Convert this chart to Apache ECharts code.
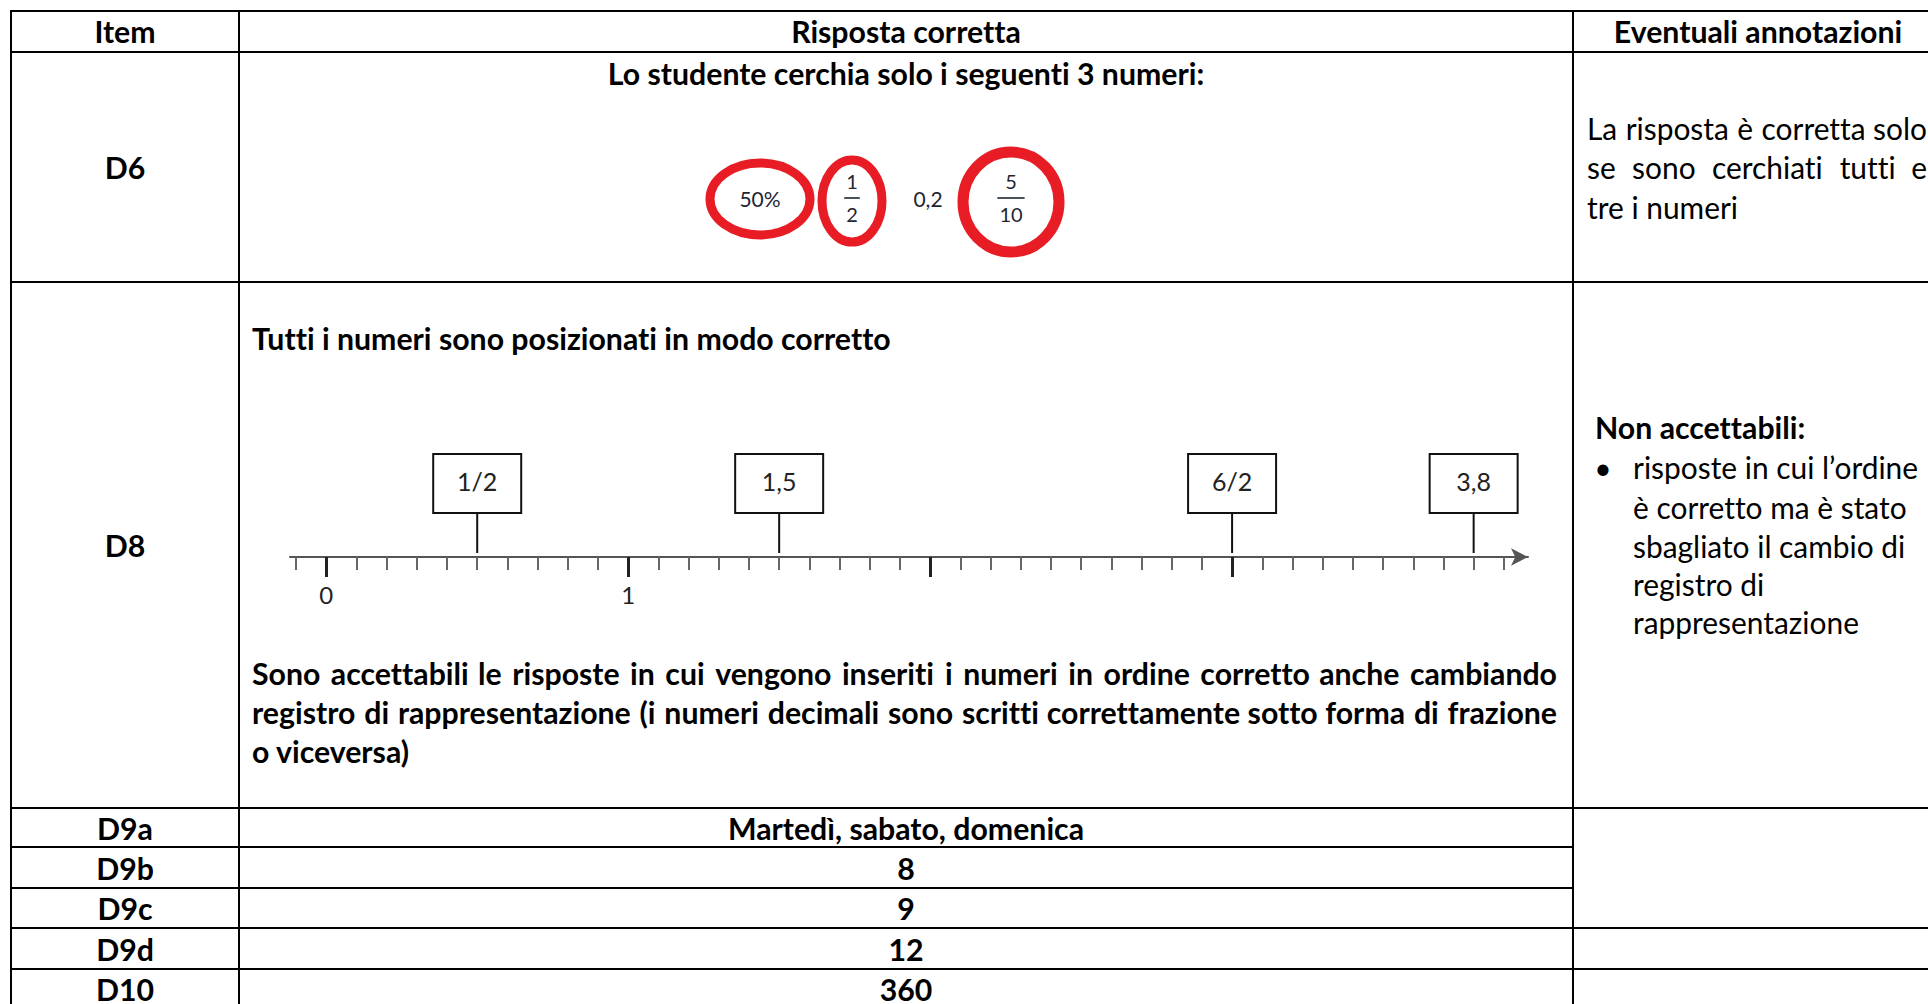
<!DOCTYPE html>
<html><head><meta charset="utf-8">
<script src="https://cdn.jsdelivr.net/npm/echarts@6/dist/echarts.min.js"></script>
<style>html,body{margin:0;padding:0;background:#fff}#c{width:1928px;height:1004px}
#c text{font-variant-ligatures:none;font-feature-settings:"liga" 0,"clig" 0}</style>
</head><body><div id="c"></div>
<script>
// ---------- content ----------
const headers = ['Item', 'Risposta corretta', 'Eventuali annotazioni'];
const items = ['D6', 'D8', 'D9a', 'D9b', 'D9c', 'D9d', 'D10'];
const d6Intro = 'Lo studente cerchia solo i seguenti 3 numeri:';
const d6Numbers = ['50%', '1/2', '0,2', '5/10'];
const d6Circled = [true, true, false, true];
const d8Intro = 'Tutti i numeri sono posizionati in modo corretto';
const markerValues = [0.5, 1.5, 3, 3.8];
const markerLabels = ['1/2', '1,5', '6/2', '3,8'];
const axisLabelValues = [0, 1];
const majorTickValues = [0, 1, 2, 3];
const d8Accept = [
  'Sono accettabili le risposte in cui vengono inseriti i numeri in ordine corretto anche cambiando',
  'registro di rappresentazione (i numeri decimali sono scritti correttamente sotto forma di frazione',
  'o viceversa)'
];
const shortAnswers = ['Martedì, sabato, domenica', '8', '9', '12', '360'];
const d6Note = ['La risposta è corretta solo', 'se sono cerchiati tutti e', 'tre i numeri'];
const d8NoteTitle = 'Non accettabili:';
const d8NoteBullet = ['risposte in cui l’ordine', 'è corretto ma è stato', 'sbagliato il cambio di', 'registro di', 'rappresentazione'];

// ---------- layout ----------
const FONT = 'Lato, "Open Sans", sans-serif';
const ctx = document.createElement('canvas').getContext('2d');
function measure(t, size, weight) { ctx.font = weight + ' ' + size + 'px ' + FONT; return ctx.measureText(t).width; }
function fit(t, weight, target) { return 100 * target / measure(t, 100, weight); }
const B = fit(d8Intro, 'bold', 637);
const R = fit('rappresentazione', 'normal', 226);
const DY = -1;

const colX = [11, 239, 1573, 1943];
const rowY = [11, 52, 282, 808, 847, 888, 928, 969, 1008];
const G = [];
function line(x1, y1, x2, y2, w, c) {
  G.push({ type: 'line', silent: true, shape: { x1, y1, x2, y2 }, style: { stroke: c || '#000', lineWidth: w || 2 } });
}
function txt(x, y, text, size, weight, align, color) {
  G.push({ type: 'text', silent: true, x, y: y + DY, style: { text, fontSize: size, fontWeight: weight, fontFamily: FONT,
    fill: color || '#000', textAlign: align || 'left', textVerticalAlign: 'middle' } });
}
function justify(x, y, width, text, size, weight) {
  const words = text.split(' ');
  const ws = words.map(w => measure(w, size, weight));
  const sum = ws.reduce((a, b) => a + b, 0);
  const gap = (width - sum) / (words.length - 1);
  let cx = x;
  words.forEach((w, i) => { txt(cx, y, w, size, weight, 'left'); cx += ws[i] + gap; });
}

// table borders
[colX[0], colX[1], colX[2]].forEach(x => line(x, rowY[0], x, 1004));
[rowY[0], rowY[1], rowY[2], rowY[3], rowY[6], rowY[7]].forEach(y => line(colX[0] - 1, y, colX[3], y));
[rowY[4], rowY[5]].forEach(y => line(colX[0] - 1, y, colX[2], y));

// header
const colC = [(colX[0] + colX[1]) / 2, (colX[1] + colX[2]) / 2, (colX[2] + colX[3]) / 2];
headers.forEach((h, i) => txt(colC[i], 32, h, B, 'bold', 'center'));
// item column
items.forEach((it, i) => txt(colC[0], (rowY[i + 1] + rowY[i + 2]) / 2 + 1, it, B, 'bold', 'center'));
// short answers
shortAnswers.forEach((a, i) => txt(colC[1], (rowY[i + 3] + rowY[i + 4]) / 2 + 1, a, B, 'bold', 'center'));

// D6
txt(colC[1], 74, d6Intro, B, 'bold', 'center');
const d6X = [760, 852, 928, 1011];
const d6Ring = [{ rx: 50, ry: 36, lw: 9, dy: 0 }, { rx: 30, ry: 41, lw: 9, dy: 2 }, null, { rx: 48, ry: 50, lw: 11, dy: 3 }];
const numC = '#1f2633';
d6Numbers.forEach((n, i) => {
  const cx = d6X[i], cy = 198;
  if (n.indexOf('/') >= 0) {
    const [a, b] = n.split('/');
    const w = Math.max(measure(a, 20, 'normal'), measure(b, 20, 'normal')) + 4;
    txt(cx, cy - 16, a, 20, 'normal', 'center', numC);
    line(cx - w / 2, cy, cx + w / 2, cy, 1.6, numC);
    txt(cx, cy + 17, b, 20, 'normal', 'center', numC);
  } else {
    txt(cx, cy + 1, n, 21, 'normal', 'center', numC);
  }
  if (d6Circled[i] && d6Ring[i]) {
    const r = d6Ring[i];
    G.push({ type: 'ellipse', silent: true, shape: { cx: cx, cy: 199 + r.dy, rx: r.rx, ry: r.ry },
      style: { fill: 'none', stroke: '#e81c24', lineWidth: r.lw } });
  }
});
// D6 note
const noteX = 1587, noteW = 340;
justify(noteX, 129, noteW, d6Note[0], R, 'normal');
justify(noteX, 168, noteW, d6Note[1], R, 'normal');
txt(noteX, 208, d6Note[2], R, 'normal');

// D8
txt(252, 339, d8Intro, B, 'bold', 'left');
justify(252, 674, 1305, d8Accept[0], B, 'bold');
justify(252, 713, 1305, d8Accept[1], B, 'bold');
txt(252, 752, d8Accept[2], B, 'bold', 'left');
// D8 note
txt(1595, 428, d8NoteTitle, B, 'bold', 'left');
txt(1603, 468, '•', R, 'normal', 'center');
const bulletY = [468, 508, 547, 585, 623];
d8NoteBullet.forEach((t, i) => txt(1633, bulletY[i], t, R, 'normal', 'left'));

// minor ticks of the number line (every tenth)
const minorTicks = [];
for (let i = -1; i <= 39; i++) minorTicks.push(i / 10);

const gridBox = { left: 290, top: 440, width: 1238, height: 117 };
const option = {
  animation: false,
  backgroundColor: '#fff',
  graphic: { elements: G },
  grid: [Object.assign({}, gridBox), Object.assign({}, gridBox)],
  xAxis: [
    { gridIndex: 0, type: 'value', min: -0.12, max: 3.98, position: 'bottom',
      axisLine: { show: true, symbol: ['none', 'arrow'], symbolSize: [13, 17], lineStyle: { color: '#555', width: 2 } },
      axisTick: { show: true, customValues: minorTicks, length: 13, lineStyle: { color: '#666', width: 2 } },
      axisLabel: { show: false }, splitLine: { show: false } },
    { gridIndex: 1, type: 'value', min: -0.12, max: 3.98, position: 'bottom',
      axisLine: { show: false },
      axisTick: { show: true, customValues: majorTickValues, length: 20, lineStyle: { color: '#222', width: 3 } },
      axisLabel: { show: true, customValues: axisLabelValues, margin: 25, fontSize: 24, fontFamily: FONT, color: '#222',
        formatter: v => String(v) },
      splitLine: { show: false } }
  ],
  yAxis: [
    { gridIndex: 0, type: 'value', min: 0, max: 1, show: false },
    { gridIndex: 1, type: 'value', min: 0, max: 1, show: false }
  ],
  series: [{
    type: 'custom', xAxisIndex: 0, yAxisIndex: 0, clip: false, silent: true,
    data: markerValues.map(v => [v, 0]),
    renderItem: function (params, api) {
      const p = api.coord([api.value(0), 0]);
      const w = 88, h = 59, stem = 44;
      return { type: 'group', children: [
        { type: 'line', shape: { x1: p[0], y1: p[1] - 4, x2: p[0], y2: p[1] - stem }, style: { stroke: '#111', lineWidth: 2 } },
        { type: 'rect', shape: { x: p[0] - w / 2, y: p[1] - stem - h, width: w, height: h }, style: { fill: '#fff', stroke: '#111', lineWidth: 2 } },
        { type: 'text', x: p[0], y: p[1] - stem - h / 2 - 3, style: { text: markerLabels[params.dataIndex], fontSize: 25,
          fontFamily: FONT, fill: '#222', textAlign: 'center', textVerticalAlign: 'middle' } }
      ] };
    }
  }]
};
const chart = echarts.init(document.getElementById('c'), null, { renderer: 'svg' });
chart.setOption(option);
</script></body></html>
